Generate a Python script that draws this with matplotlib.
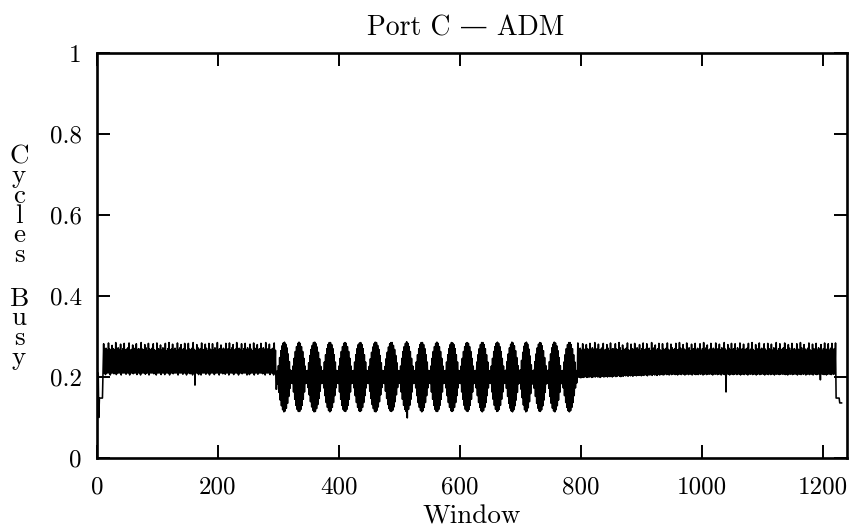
import matplotlib
matplotlib.use("Agg")
import matplotlib.pyplot as plt
import numpy as np

plt.rcParams['font.family'] = ['cmr10', 'DejaVu Serif']
plt.rcParams['axes.formatter.use_mathtext'] = True

title = "Port C \u2014 ADM"
x_label = "Window"
y_label_words = ["Cycles", "Busy"]
x_ticks = [0, 200, 400, 600, 800, 1000, 1200]
x_tick_labels = ["0", "200", "400", "600", "800", "1000", "1200"]
y_ticks = [0, 0.2, 0.4, 0.6, 0.8, 1.0]
y_tick_labels = ["0", "0.2", "0.4", "0.6", "0.8", "1"]

# cycles busy, in thousandths, read window by window from the chart
lead_in = [210, 210, 210, 100, 148, 148, 148, 148, 148, 148]

band_a_low = """
210 210 206 210 210 210 205 210 210 208
210 206 210 210 210 205 210 210 210 207
210 210 205 210 210 208 210 210 206 210
210 205 210 210 210 207 210 210 205 210
210 210 208 210 205 210 210 210 206 210
210 206 210 210 210 205 210 210 208 210
210 210 205 210 210 210 207 210 210 205
210 210 208 210 205 210 180 210 210 206
210 205 210 210 210 207 210 210 205 210
210 210 206 210 210 210 205 210 210 208
210 207 210 210 205 210 210 210 206 210
210 210 205 210 210 208 210 210 210 205
210 206 210 210 210 205 210 210 207 210
210 210 208 210 205 210 210 210 206 210
210 205 210
"""

band_a_high = """
282 268 271 266 284 269 265 278 270 267
285 266 272 268 281 265 270 283 267 269
272 284 266 268 279 271 265 282 268 270
266 285 269 267 280 272 265 283 269 266
271 282 267 265 284 270 268 279 266 272
268 283 265 270 285 267 269 281 266 271
265 284 268 272 280 266 270 283 267 265
283 269 266 271 285 268 265 280 272 267
270 284 266 268 281 271 265 283 269 266
282 267 272 265 285 268 270 279 266 271
268 283 265 270 284 267 272 280 266 269
285 266 271 268 282 265 270 283 267 272
266 281 269 265 284 271 267 280 268 270
283 265 272 268 285 266 270 281 267 269
271 284 266
"""

gap_ab = [170, 170]

lens_rows = [
    "215 183 228 162 248 143 265 129 277 119 284 114 286 116 281 123 272 135 257 152 238 172 217 185",
    "215 184 227 163 246 145 263 130 275 120 283 115 286 115 283 120 275 130 263 145 246 163 227 184 215",
    "185 216 174 235 156 253 139 268 126 278 118 285 114 286 115 282 122 274 132 261 147 245 165 226 184 215",
    "185 216 173 237 154 255 137 270 125 280 117 285 114 285 117 280 125 270 137 255 154 237 173 216 185",
    "215 184 227 163 246 145 263 130 275 120 283 116 285 115 283 120 275 130 263 145 246 163 227 184 215",
    "185 216 173 237 154 255 137 270 125 280 117 284 115 285 117 280 125 270 137 255 154 237 173 216 185",
    "215 184 226 165 245 147 261 132 274 122 282 115 286 114 285 118 278 126 268 139 253 156 235 174 216 185",
    "215 184 226 165 245 147 261 132 274 122 282 116 285 115 285 118 278 126 268 139 253 156 235 174 216 185",
    "215 184 227 163 246 145 263 130 275 120 283 115 287 99 283 120 275 130 263 145 246 163 227 184 215",
    "185 216 173 237 154 255 137 270 125 280 117 285 114 285 117 280 125 270 137 255 154 237 173 216 185",
    "215 184 227 163 246 145 263 130 275 120 283 115 286 115 283 120 275 130 263 145 246 163 227 184 215",
    "185 216 173 237 154 255 137 270 125 280 117 285 115 284 117 280 125 270 137 255 154 237 173 216 185",
    "215 184 227 163 246 145 263 130 275 120 283 116 285 115 283 120 275 130 263 145 246 163 227 184 215",
    "185 216 173 237 154 255 137 270 125 280 117 285 114 285 117 280 125 270 137 255 154 237 173 216 185",
    "215 184 227 163 246 145 263 130 275 120 283 115 286 116 283 120 275 130 263 145 246 163 227 184 215",
    "185 217 172 238 152 257 135 272 123 281 116 286 114 284 119 277 129 265 143 248 162 228 183 215",
    "185 218 170 241 149 261 131 276 119 284 114 286 116 281 124 269 139 252 159 230 182 215",
    "185 217 172 238 152 257 135 272 123 281 116 285 115 284 119 277 129 265 143 248 162 228 183 215",
    "185 217 172 238 152 257 135 272 123 281 116 286 114 284 119 277 129 265 143 248 162 228 183 215",
    "185 216 173 237 154 255 137 270 125 280 117 285 114 285 117 280 125 270 137 255 154 237 173 216 185",
]

band_c_low = """
199 200 199 198 200 199 200 201 199 200
200 201 199 200 201 200 202 200 201 199
201 202 200 201 202 200 203 201 202 200
202 203 201 202 204 202 201 203 202 204
203 204 202 205 203 204 202 205 204 203
205 204 206 203 205 204 206 205 203 206
205 206 204 207 205 206 204 207 205 206
207 205 206 208 206 207 205 208 206 207
208 206 207 205 208 207 206 208 207 205
207 208 206 208 207 205 208 207 206 208
206 208 207 208 205 207 208 206 208 207
208 207 205 208 207 208 206 207 208 205
208 207 206 163 208 207 205 208 207 206
207 208 206 208 207 205 208 207 206 208
207 205 208 207 208 206 207 208 205 207
208 206 207 208 207 205 208 207 206 208
206 208 207 205 208 207 208 206 207 208
207 208 206 207 205 208 207 208 206 207
208 207 205 208 207 206 208 207 208 205
207 208 206 208 207 205 208 207 206 208
207 193 208 207 206 208 205 207 208 207
206 208 207 208
"""

band_c_high = """
284 268 271 266 282 269 265 280 270 267
283 266 272 268 285 265 270 281 267 269
272 283 266 268 280 271 265 284 268 270
266 282 269 267 285 272 265 279 269 266
271 284 267 265 281 270 268 283 266 272
268 280 265 270 284 267 269 282 266 271
265 285 268 272 279 266 270 283 267 265
282 269 266 271 284 268 265 281 272 267
270 283 266 268 285 271 265 280 269 266
284 267 272 265 281 268 270 283 266 271
268 282 265 270 285 267 272 279 266 269
283 266 271 268 284 265 270 281 267 272
266 285 269 265 280 271 267 283 268 270
282 265 272 268 284 266 270 281 267 269
271 283 266 269 285 268 265 280 270 267
284 268 271 266 282 269 265 283 270 267
281 266 272 268 285 265 270 282 267 269
272 284 266 268 280 271 265 283 268 270
266 282 269 267 285 272 265 280 269 266
271 284 267 265 281 270 268 283 266 272
268 280 265 270 284 267 269 282 266 271
283 266 270 284
"""

tail = [148, 148, 148, 148, 148, 148, 136, 136, 136, 136]


def nums(text):
    return [int(t) for t in text.split()]


def interleave(lows, highs):
    out = []
    for lo, hi in zip(lows, highs):
        out.extend([lo, hi])
    return out


series = (lead_in
          + interleave(nums(band_a_low), nums(band_a_high))
          + gap_ab
          + [v for row in lens_rows for v in nums(row)]
          + interleave(nums(band_c_low), nums(band_c_high))
          + tail)
busy = np.array(series) / 1000.0
window = np.arange(len(busy))

W, H = 854, 529
fig = plt.figure(figsize=(W / 100, H / 100), dpi=100)
ax = fig.add_axes([97 / W, 1 - 458 / H, 750 / W, 405 / H])

ax.plot(window, busy, color="black", lw=1.15)

ax.set_xlim(0, 1240)
ax.set_ylim(0, 1)
ax.set_xticks(x_ticks)
ax.set_xticklabels(x_tick_labels)
ax.set_yticks(y_ticks)
ax.set_yticklabels(y_tick_labels)

fs_tick = 18
fs_text = 19.5
ax.tick_params(axis="both", direction="in", length=9.5, width=1.4,
               top=True, right=True, labelsize=fs_tick, colors="black")
ax.tick_params(axis="x", pad=13)
ax.tick_params(axis="y", pad=11)
for sp in ax.spines.values():
    sp.set_linewidth(1.9)

fig.text(466 / W, 1 - 36 / H, title, ha="center", va="baseline", fontsize=20)
fig.text(472 / W, 1 - 524 / H, x_label, ha="center", va="baseline", fontsize=fs_text)

# stacked (one letter per line) y label, as in the reference
for word, top_px in zip(y_label_words, [145, 287]):
    fig.text(19 / W, 1 - top_px / H, "\n".join(word), ha="center", va="top",
             multialignment="center", linespacing=0.78, fontsize=fs_text)

fig.savefig("out.png", dpi=100, facecolor="white")
